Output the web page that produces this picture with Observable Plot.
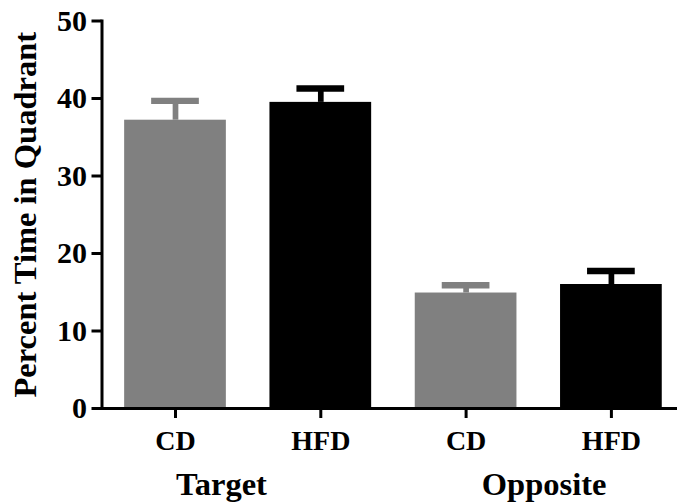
<!DOCTYPE html>
<html>
<head>
<meta charset="utf-8">
<script src="https://cdn.jsdelivr.net/npm/d3@7"></script>
<script src="https://cdn.jsdelivr.net/npm/@observablehq/plot@0.6"></script>
<style>
  html, body { margin: 0; padding: 0; background: #fff; }
</style>
</head>
<body>
<div id="chart"></div>
<script>
// ---- data ----
const groups = ["Target", "Target", "Opposite", "Opposite"];
const diets = ["CD", "HFD", "CD", "HFD"];
const means = [37.2, 39.5, 14.9, 16.0];
const sems = [2.5, 1.8, 1.0, 1.75];
const yTicks = [0, 10, 20, 30, 40, 50];
const groupNames = ["Target", "Opposite"];
const yLabel = "Percent Time in Quadrant";

const data = groups.map((g, i) => ({
  key: g + " " + diets[i],
  group: g,
  diet: diets[i],
  mean: means[i],
  sem: sems[i]
}));
const keys = data.map(d => d.key);
const font = "'Liberation Serif', 'Times New Roman', serif";
const groupDx = [46, 78];

const chart = Plot.plot({
  width: 677,
  height: 504,
  marginLeft: 101.5,
  marginRight: 0,
  marginTop: 20.5,
  marginBottom: 96,
  style: { fontFamily: font, fontWeight: "bold", background: "white", color: "black" },
  x: { domain: keys, range: [102.35, 683.55], paddingInner: 0.3, paddingOuter: 0.15, round: false, axis: null },
  y: { domain: [0, 50], axis: null },
  color: { domain: ["CD", "HFD"], range: ["#808080", "#000000"] },
  marks: [
    Plot.barY(data, { x: "key", y: "mean", fill: "diet" }),
    Plot.ruleX(data, { x: "key", y1: "mean", y2: d => d.mean + d.sem, stroke: "diet", strokeWidth: 5.7 }),
    Plot.tickY(data, { x: "key", y: d => d.mean + d.sem, stroke: "diet", strokeWidth: 6.4, insetLeft: 27, insetRight: 27 }),
    Plot.ruleY([0], { strokeWidth: 3 }),
    Plot.frame({ anchor: "left", strokeWidth: 3 }),
    Plot.axisY({ ticks: yTicks, tickSize: 10, tickPadding: 5, strokeWidth: 3, fontSize: 30, fontWeight: "bold", label: null }),
    Plot.axisX({ tickSize: 10, tickPadding: 12, strokeWidth: 3, fontSize: 28, fontWeight: "bold", label: null,
                 tickFormat: k => data.find(d => d.key === k).diet }),
    ...groupNames.map((g, i) => Plot.text([g], {
      x: () => keys.find(k => k.startsWith(g)),
      text: d => d,
      frameAnchor: "bottom",
      lineAnchor: "middle",
      dx: groupDx[i], dy: 76.5,
      fontSize: 32.5, fontWeight: "bold"
    })),
    Plot.text([yLabel], {
      text: d => d,
      frameAnchor: "left",
      textAnchor: "middle",
      rotate: -90,
      lineAnchor: "middle",
      dx: -76,
      fontSize: 32.5, fontWeight: "bold"
    })
  ]
});
document.getElementById("chart").appendChild(chart);
</script>
</body>
</html>
